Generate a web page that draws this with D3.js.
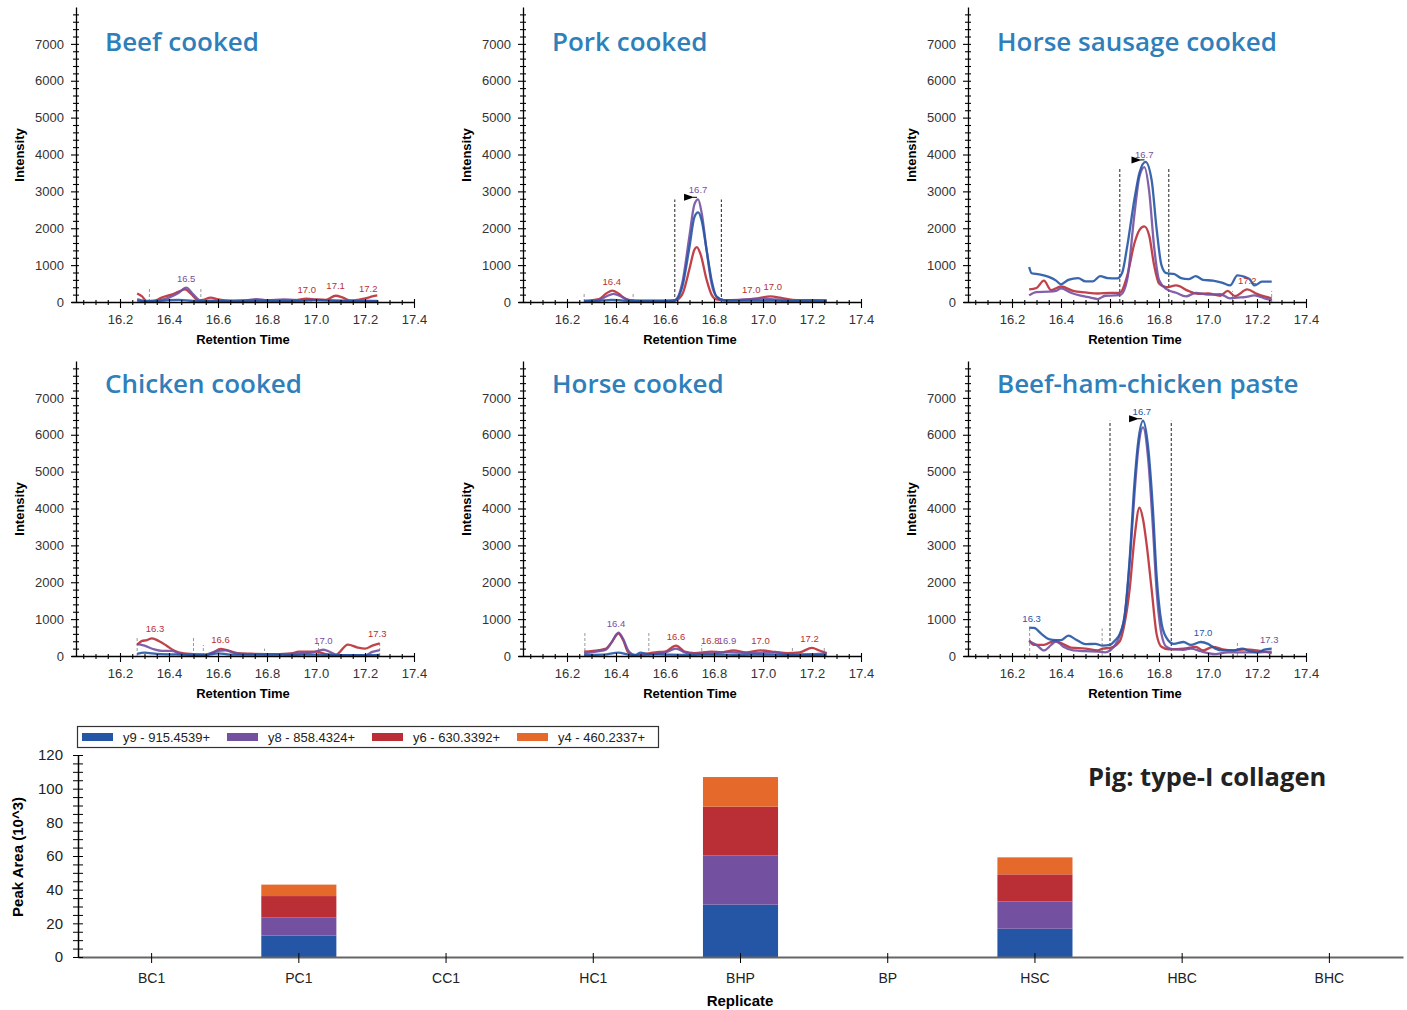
<!DOCTYPE html>
<html>
<head>
<meta charset="utf-8">
<script src="https://cdn.jsdelivr.net/npm/d3@7"></script>
<style>
  body { margin: 0; background: #fff; }
  svg { display: block; }
</style>
</head>
<body>
<div id="chart"></div>
<script>
// ---- data ----
const ions = ["y9 - 915.4539+", "y8 - 858.4324+", "y6 - 630.3392+", "y4 - 460.2337+"];
const ionColors = ["#2456a5", "#7450a1", "#b92f35", "#e5692b"];

const rtTicks = [16.2, 16.4, 16.6, 16.8, 17.0, 17.2, 17.4];
const intensityTicks = [0, 1000, 2000, 3000, 4000, 5000, 6000, 7000];

const replicates = ["BC1", "PC1", "CC1", "HC1", "BHP", "BP", "HSC", "HBC", "BHC"];
const areaY9 = [0, 12.7, 0, 0, 31.1, 0, 16.8, 0, 0];
const areaY8 = [0, 10.7, 0, 0, 29.3, 0, 16.2, 0, 0];
const areaY6 = [0, 12.8, 0, 0, 28.9, 0, 16.1, 0, 0];
const areaY4 = [0, 6.8, 0, 0, 17.6, 0, 10.1, 0, 0];
const areaTicks = [0, 20, 40, 60, 80, 100, 120];

// chromatogram traces: [retention time, intensity]
const beefY9 = [[16.27,40],[16.32,20],[16.38,40],[16.44,60],[16.5,30],[16.6,20],[16.7,30],[16.8,40],[16.9,30],[17.0,50],[17.1,30],[17.2,20],[17.25,20]];
const beefY8 = [[16.27,80],[16.3,30],[16.35,40],[16.4,120],[16.44,250],[16.47,390],[16.5,200],[16.53,30],[16.6,40],[16.7,40],[16.76,80],[16.8,50],[16.87,70],[16.95,50],[17.0,60],[17.1,40],[17.2,40],[17.25,30]];
const beefY6 = [[16.27,230],[16.29,150],[16.31,20],[16.34,30],[16.37,120],[16.41,200],[16.44,280],[16.465,340],[16.49,220],[16.52,40],[16.54,60],[16.57,120],[16.6,70],[16.65,30],[16.75,40],[16.85,30],[16.92,50],[16.96,90],[17.0,70],[17.04,60],[17.08,170],[17.11,120],[17.14,40],[17.18,70],[17.21,110],[17.23,150],[17.25,180]];

const porkY9 = [[16.27,20],[16.33,30],[16.38,60],[16.43,40],[16.5,20],[16.6,20],[16.64,40],[16.67,400],[16.7,1500],[16.72,2300],[16.735,2430],[16.75,2200],[16.77,1400],[16.79,600],[16.81,150],[16.84,50],[16.9,40],[17.0,40],[17.1,30],[17.2,30],[17.26,30]];
const porkY8 = [[16.27,30],[16.33,60],[16.36,150],[16.39,220],[16.42,150],[16.45,60],[16.5,30],[16.6,30],[16.64,50],[16.67,500],[16.7,1800],[16.72,2650],[16.735,2785],[16.75,2400],[16.77,1400],[16.79,500],[16.81,150],[16.84,50],[16.9,60],[16.95,80],[17.0,90],[17.05,70],[17.1,50],[17.2,50],[17.26,40]];
const porkY6 = [[16.27,30],[16.33,80],[16.36,230],[16.385,310],[16.41,230],[16.44,80],[16.47,40],[16.55,40],[16.64,40],[16.67,200],[16.7,900],[16.72,1420],[16.73,1490],[16.745,1300],[16.77,600],[16.79,200],[16.81,70],[16.85,40],[16.92,60],[16.98,100],[17.03,150],[17.07,120],[17.12,60],[17.2,50],[17.26,40]];

const sausageY9 = [[16.27,950],[16.28,780],[16.31,750],[16.35,680],[16.38,580],[16.4,480],[16.43,600],[16.47,650],[16.5,560],[16.53,560],[16.56,700],[16.59,650],[16.63,640],[16.65,800],[16.67,1500],[16.7,2800],[16.72,3500],[16.745,3800],[16.77,3300],[16.79,2000],[16.81,1000],[16.83,780],[16.86,760],[16.89,650],[16.92,620],[16.95,700],[16.98,600],[17.02,580],[17.06,520],[17.09,450],[17.12,720],[17.15,680],[17.17,620],[17.19,450],[17.22,550],[17.26,550]];
const sausageY8 = [[16.27,180],[16.3,270],[16.35,280],[16.38,300],[16.4,370],[16.44,250],[16.48,170],[16.52,120],[16.55,80],[16.58,170],[16.62,180],[16.645,200],[16.67,600],[16.7,2400],[16.72,3400],[16.74,3660],[16.76,3000],[16.78,1500],[16.8,600],[16.83,350],[16.87,250],[16.91,150],[16.95,250],[17.0,200],[17.05,210],[17.09,100],[17.12,120],[17.15,130],[17.19,180],[17.23,100],[17.26,50]];
const sausageY6 = [[16.27,340],[16.3,380],[16.33,580],[16.36,320],[16.4,420],[16.45,300],[16.5,260],[16.55,230],[16.6,250],[16.64,250],[16.67,700],[16.7,1600],[16.72,1950],[16.74,2050],[16.76,1800],[16.78,1000],[16.8,500],[16.83,400],[16.87,450],[16.92,300],[16.96,220],[17.0,230],[17.05,170],[17.08,300],[17.11,160],[17.16,340],[17.2,220],[17.23,150],[17.26,100]];

const chickenY9 = [[16.27,60],[16.3,90],[16.35,60],[16.45,40],[16.55,30],[16.6,70],[16.65,40],[16.8,40],[16.9,30],[17.0,40],[17.1,20],[17.2,20],[17.26,30]];
const chickenY8 = [[16.27,330],[16.3,280],[16.34,180],[16.37,140],[16.41,140],[16.45,60],[16.5,40],[16.55,40],[16.6,140],[16.63,150],[16.67,80],[16.72,50],[16.8,50],[16.9,60],[16.98,90],[17.03,170],[17.06,100],[17.09,20],[17.15,20],[17.2,20],[17.23,110],[17.26,160]];
const chickenY6 = [[16.27,300],[16.29,410],[16.31,430],[16.33,480],[16.36,400],[16.39,280],[16.42,150],[16.46,70],[16.5,50],[16.55,30],[16.58,90],[16.61,190],[16.64,150],[16.68,80],[16.75,60],[16.85,50],[16.9,70],[16.93,120],[17.0,120],[17.04,50],[17.08,30],[17.13,310],[17.17,230],[17.2,200],[17.23,280],[17.26,340]];

const horseY9 = [[16.27,30],[16.35,40],[16.41,90],[16.45,40],[16.48,30],[16.5,90],[16.53,50],[16.6,40],[16.7,30],[16.8,40],[16.9,30],[17.0,40],[17.1,30],[17.26,30]];
const horseY8 = [[16.27,80],[16.33,130],[16.36,180],[16.38,350],[16.41,630],[16.43,450],[16.45,150],[16.48,20],[16.52,30],[16.56,60],[16.6,90],[16.645,200],[16.68,100],[16.72,60],[16.8,70],[16.85,110],[16.88,100],[16.95,80],[17.05,100],[17.1,40],[17.2,50],[17.26,80]];
const horseY6 = [[16.27,120],[16.33,160],[16.36,200],[16.38,350],[16.41,610],[16.43,420],[16.45,100],[16.48,20],[16.52,60],[16.56,100],[16.6,120],[16.645,280],[16.68,120],[16.72,80],[16.79,120],[16.83,100],[16.88,150],[16.93,100],[16.99,150],[17.05,110],[17.1,80],[17.15,100],[17.2,220],[17.23,150],[17.26,80]];

const pasteY9 = [[16.27,770],[16.29,760],[16.32,600],[16.35,460],[16.38,430],[16.4,430],[16.43,550],[16.46,450],[16.5,320],[16.54,330],[16.57,280],[16.6,300],[16.62,420],[16.64,600],[16.66,1100],[16.68,2600],[16.7,4700],[16.715,5800],[16.735,6380],[16.755,5700],[16.775,4000],[16.79,2200],[16.81,900],[16.83,500],[16.86,330],[16.9,380],[16.93,300],[16.97,380],[17.0,330],[17.03,200],[17.06,150],[17.1,150],[17.14,200],[17.17,130],[17.2,100],[17.23,170],[17.26,200]];
const pasteY8 = [[16.27,400],[16.3,300],[16.33,150],[16.36,300],[16.38,400],[16.41,250],[16.45,150],[16.5,130],[16.55,120],[16.58,100],[16.6,150],[16.63,400],[16.66,1100],[16.68,2500],[16.7,4400],[16.715,5600],[16.735,6200],[16.755,5400],[16.775,3500],[16.79,1800],[16.81,600],[16.83,250],[16.86,180],[16.9,170],[16.93,200],[16.97,130],[17.0,80],[17.03,50],[17.08,100],[17.15,100],[17.2,100],[17.26,120]];
const pasteY6 = [[16.27,420],[16.29,300],[16.33,300],[16.37,400],[16.4,350],[16.44,230],[16.5,200],[16.55,150],[16.57,200],[16.6,220],[16.64,400],[16.66,900],[16.68,1800],[16.7,3200],[16.72,4020],[16.735,3700],[16.75,3000],[16.77,1800],[16.79,600],[16.81,250],[16.84,180],[16.9,200],[16.95,250],[16.98,150],[17.02,250],[17.06,180],[17.1,150],[17.15,180],[17.2,150],[17.26,80]];

// peak labels: [rt, intensity, text, ion index]
const beefLabels = [[16.47,390,"16.5",1],[16.962,90,"17.0",2],[17.08,180,"17.1",2],[17.213,110,"17.2",2]];
const porkLabels = [[16.735,2785,"16.7",1],[16.383,310,"16.4",2],[16.952,80,"17.0",2],[17.04,150,"17.0",2]];
const sausageLabels = [[16.74,3750,"16.7",1],[17.16,330,"17.2",2]];
const chickenLabels = [[16.343,480,"16.3",2],[16.61,180,"16.6",2],[17.03,170,"17.0",1],[17.25,340,"17.3",2]];
const horseLabels = [[16.40,630,"16.4",1],[16.645,280,"16.6",2],[16.785,150,"16.8",2],[16.853,150,"16.9",1],[16.99,150,"17.0",2],[17.19,220,"17.2",2]];
const pasteLabels = [[16.73,6380,"16.7",0],[16.28,770,"16.3",0],[16.98,380,"17.0",0],[17.25,200,"17.3",1]];

// integration boundaries: [rt, height, chosen peak (1) or other (0)]
const beefBounds = [[16.32,360,0],[16.53,360,0],[16.98,100,0],[17.14,100,0]];
const porkBounds = [[16.64,2780,1],[16.83,2780,1],[16.27,270,0],[16.47,270,0]];
const sausageBounds = [[16.64,3640,1],[16.84,3640,1],[17.1,300,0],[17.26,300,0]];
const chickenBounds = [[16.27,500,0],[16.5,500,0],[16.54,300,0],[16.79,200,0],[17.01,390,0],[17.26,390,0]];
const horseBounds = [[16.273,630,0],[16.534,630,0],[16.75,300,0],[17.12,240,0],[17.25,240,0]];
const pasteBounds = [[16.6,6380,1],[16.85,6380,1],[16.272,770,0],[16.568,750,0],[17.12,370,0]];

const panels = [
  { title: "Beef cooked", col: 0, row: 0, y9: beefY9, y8: beefY8, y6: beefY6, labels: beefLabels, bounds: beefBounds, apex: null },
  { title: "Pork cooked", col: 1, row: 0, y9: porkY9, y8: porkY8, y6: porkY6, labels: porkLabels, bounds: porkBounds, apex: [16.735, 2785] },
  { title: "Horse sausage cooked", col: 2, row: 0, y9: sausageY9, y8: sausageY8, y6: sausageY6, labels: sausageLabels, bounds: sausageBounds, apex: [16.745, 3800] },
  { title: "Chicken cooked", col: 0, row: 1, y9: chickenY9, y8: chickenY8, y6: chickenY6, labels: chickenLabels, bounds: chickenBounds, apex: null },
  { title: "Horse cooked", col: 1, row: 1, y9: horseY9, y8: horseY8, y6: horseY6, labels: horseLabels, bounds: horseBounds, apex: null },
  { title: "Beef-ham-chicken paste", col: 2, row: 1, y9: pasteY9, y8: pasteY8, y6: pasteY6, labels: pasteLabels, bounds: pasteBounds, apex: [16.735, 6380] }
];

// ---- layout ----
const W = 1407, H = 1010;
const colX = [71, 518, 963];
const rowY = [302, 656];
const titleY = [51, 393];
const plotW = 343, plotH = 295;

const svg = d3.select("#chart").append("svg")
  .attr("width", W).attr("height", H)
  .style("font-family", "Arial, 'Liberation Sans', sans-serif");

function drawPanel(p) {
  const x0 = colX[p.col], y0 = rowY[p.row];
  const x = d3.scaleLinear().domain([16.0, 17.4]).range([x0, x0 + plotW]);
  const y = d3.scaleLinear().domain([0, 8000]).range([y0, y0 - plotH]);
  const g = svg.append("g");

  // boundaries
  p.bounds.forEach(b => {
    g.append("line")
      .attr("x1", x(b[0])).attr("x2", x(b[0]))
      .attr("y1", y(0)).attr("y2", y(b[1]))
      .attr("stroke", b[2] ? "#222" : "#999")
      .attr("stroke-width", 1)
      .attr("stroke-dasharray", "3,2");
  });

  // traces
  const line = d3.line().x(d => x(d[0])).y(d => y(d[1])).curve(d3.curveMonotoneX);
  [[p.y6, 2], [p.y8, 1], [p.y9, 0]].forEach(([tr, i]) => {
    g.append("path")
      .attr("d", line(tr))
      .attr("fill", "none")
      .attr("stroke", ionColors[i])
      .attr("stroke-width", 2.3)
      .attr("stroke-opacity", 0.9);
  });

  // axes
  const yAxisX = x0 + 5;
  const yMinor = d3.range(200, 8000, 200).filter(v => v % 1000 !== 0);
  const ya = g.append("g").attr("transform", `translate(${yAxisX},0)`)
    .call(d3.axisLeft(y).tickValues(intensityTicks).tickSize(5).tickSizeOuter(0).tickPadding(7).tickFormat(d3.format("d")));
  ya.selectAll(".tick line").attr("x1", 3);
  const ym = g.append("g").attr("transform", `translate(${yAxisX},0)`)
    .call(d3.axisLeft(y).tickValues(yMinor).tickSize(3).tickFormat(""));
  ym.select(".domain").remove();
  ym.selectAll(".tick line").attr("x1", 3);

  const xMinor = d3.range(16.05, 17.4, 0.05).filter(v => Math.abs(v * 5 - Math.round(v * 5)) > 0.01);
  const xa = g.append("g").attr("transform", `translate(0,${y0})`)
    .call(d3.axisBottom(x).tickValues(rtTicks).tickSize(6).tickSizeOuter(0).tickPadding(7).tickFormat(d3.format(".1f")));
  xa.selectAll(".tick line").attr("y1", -3);
  const xm = g.append("g").attr("transform", `translate(0,${y0})`)
    .call(d3.axisBottom(x).tickValues(xMinor).tickSize(3).tickFormat(""));
  xm.select(".domain").remove();
  xm.selectAll(".tick line").attr("y1", -2);

  g.selectAll(".domain").attr("stroke-width", 1.3);
  g.selectAll(".tick line").attr("stroke-width", 1.1);
  g.selectAll(".tick text").attr("font-size", 13).attr("fill", "#333");

  // peak labels
  p.labels.forEach(l => {
    g.append("text")
      .attr("x", x(l[0])).attr("y", y(l[1]) - 6)
      .attr("text-anchor", "middle")
      .attr("font-size", 9.5)
      .attr("fill", ionColors[l[3]])
      .text(l[2]);
  });

  // apex flag
  if (p.apex) {
    const ax = x(p.apex[0]) - 14, ay = y(p.apex[1]) - 2;
    g.append("path")
      .attr("d", `M${ax},${ay - 3.5}L${ax + 10},${ay}L${ax},${ay + 3.5}Z`)
      .attr("fill", "#000");
    g.append("line")
      .attr("x1", ax + 9).attr("x2", ax + 13)
      .attr("y1", ay).attr("y2", ay)
      .attr("stroke", "#000");
  }

  // axis titles
  g.append("text")
    .attr("transform", `translate(${x0 - 47},${y0 - 147}) rotate(-90)`)
    .attr("text-anchor", "middle")
    .attr("font-size", 13).attr("font-weight", "bold")
    .text("Intensity");
  g.append("text")
    .attr("x", x0 + 172).attr("y", y0 + 42)
    .attr("text-anchor", "middle")
    .attr("font-size", 13).attr("font-weight", "bold")
    .text("Retention Time");

  // panel title
  g.append("text")
    .attr("x", x0 + 34).attr("y", titleY[p.row])
    .attr("font-family", "'Open Sans', sans-serif")
    .attr("font-size", 26).attr("font-weight", 600)
    .attr("fill", "#2f7fba")
    .text(p.title);
}

panels.forEach(drawPanel);

// ---- peak area bar chart ----
const bx = d3.scaleBand().domain(replicates).range([78, 1403]).paddingInner(0.49).paddingOuter(0.245);
const by = d3.scaleLinear().domain([0, 120]).range([957, 755]);

const stackData = replicates.map((r, i) => ({ rep: r, y9: areaY9[i], y8: areaY8[i], y6: areaY6[i], y4: areaY4[i] }));
const keys = ["y9", "y8", "y6", "y4"];
const stacked = d3.stack().keys(keys)(stackData);

const bars = svg.append("g");
stacked.forEach((s, i) => {
  bars.selectAll(null)
    .data(s.filter(d => d[1] > d[0]))
    .enter().append("rect")
    .attr("x", d => bx(d.data.rep))
    .attr("width", bx.bandwidth())
    .attr("y", d => by(d[1]))
    .attr("height", d => by(d[0]) - by(d[1]))
    .attr("fill", ionColors[i]);
});

// x axis
const bxa = svg.append("g").attr("transform", "translate(0,957)")
  .call(d3.axisBottom(bx).tickSize(6).tickSizeOuter(0).tickPadding(10));
bxa.select(".domain").attr("stroke", "#666").attr("stroke-width", 2);
bxa.selectAll(".tick line").attr("y1", -4);
bxa.selectAll(".tick text").attr("font-size", 14).attr("fill", "#222");

// y axis
const bya = svg.append("g").attr("transform", "translate(78,0)")
  .call(d3.axisLeft(by).tickValues(areaTicks).tickSize(5).tickSizeOuter(0).tickPadding(10));
bya.selectAll(".tick line").attr("x1", 5);
bya.selectAll(".tick text").attr("font-size", 15).attr("fill", "#222");
bya.select(".domain").attr("stroke-width", 1.5);
const bym = svg.append("g").attr("transform", "translate(78,0)")
  .call(d3.axisLeft(by).tickValues(d3.range(5, 120, 5).filter(v => v % 20 !== 0)).tickSize(5).tickFormat(""));
bym.select(".domain").remove();
bym.selectAll(".tick line").attr("x1", 5);

svg.append("text")
  .attr("transform", "translate(23,857) rotate(-90)")
  .attr("text-anchor", "middle")
  .attr("font-size", 15).attr("font-weight", "bold")
  .text("Peak Area (10^3)");
svg.append("text")
  .attr("x", 740).attr("y", 1006)
  .attr("text-anchor", "middle")
  .attr("font-size", 15).attr("font-weight", "bold")
  .text("Replicate");

svg.append("text")
  .attr("x", 1088).attr("y", 786)
  .attr("font-family", "'Open Sans', sans-serif")
  .attr("font-size", 25.5).attr("font-weight", 700)
  .attr("fill", "#222")
  .text("Pig: type-I collagen");

// legend
const leg = svg.append("g");
leg.append("rect")
  .attr("x", 77.5).attr("y", 726.5).attr("width", 581).attr("height", 21)
  .attr("fill", "#fff").attr("stroke", "#333").attr("stroke-width", 1.2);
ions.forEach((name, i) => {
  leg.append("rect")
    .attr("x", 82 + i * 145).attr("y", 733)
    .attr("width", 31).attr("height", 8)
    .attr("fill", ionColors[i]);
  leg.append("text")
    .attr("x", 123 + i * 145).attr("y", 742)
    .attr("font-size", 13)
    .attr("fill", "#222")
    .text(name);
});
</script>
</body>
</html>
